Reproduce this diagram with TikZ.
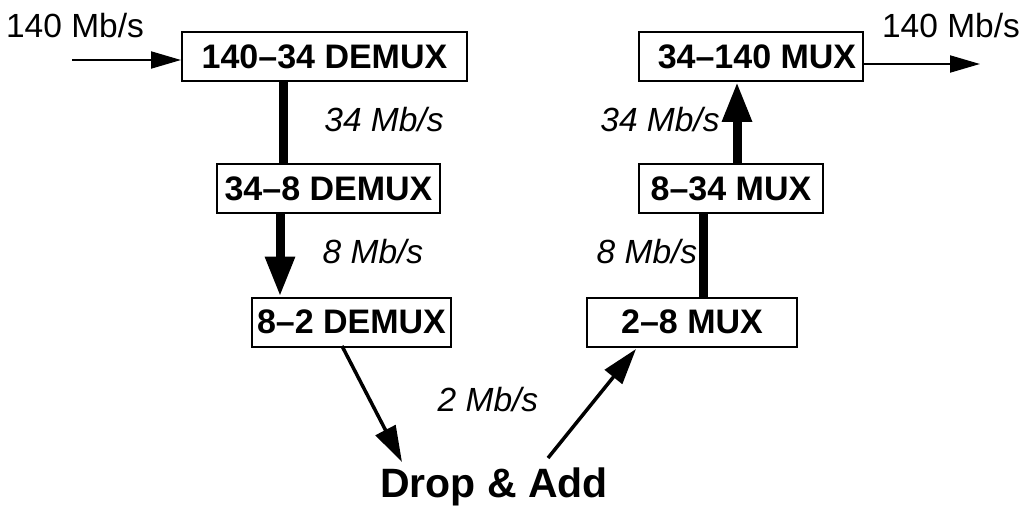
\documentclass[tikz,border=0pt]{standalone}
\usepackage{fontspec}
\setmainfont{Liberation Sans}
\usetikzlibrary{arrows.meta}
\begin{document}
\begin{tikzpicture}[x=1pt,y=-1pt,
  box/.style={draw,line width=2pt,minimum height=49pt,inner sep=0pt,font=\fontsize{34}{36}\selectfont\bfseries},
  rate/.style={font=\fontsize{33.5}{36}\selectfont\itshape,inner sep=0pt},
  plain/.style={font=\fontsize{33.5}{36}\selectfont,inner sep=0pt},
  thin/.style={line width=2pt,-{Triangle[length=30pt,width=17pt]}},
  heavy/.style={line width=9pt},
  heavyarrow/.style={line width=9pt,-{Triangle[length=40pt,width=28pt]}},
  diag/.style={line width=3.5pt,-{Triangle[length=36pt,width=22pt]}}]
\useasboundingbox (0,0) rectangle (1021,508);
% boxes
\node[box,minimum width=285pt] (d1) at (324.5,56.5) {140–34 DEMUX};
\node[box,minimum width=223pt] (d2) at (328.5,188.5) {34–8 DEMUX};
\node[box,minimum width=199pt] (d3) at (351.5,322) {8–2 DEMUX};
\node[box,minimum width=224pt] (m1) at (751,56.5) {\hspace*{12pt}34–140 MUX};
\node[box,minimum width=184pt] (m2) at (731,188.5) {8–34 MUX};
\node[box,minimum width=210pt] (m3) at (692,322) {2–8 MUX};
\node[font=\fontsize{41}{44}\selectfont\bfseries,inner sep=0pt] (da) at (494,487) {Drop \& Add};
% labels
\node[plain] (lin) at (75,26) {140 Mb/s};
\node[plain] (lout) at (951,26) {140 Mb/s};
\node[rate] (r1) at (384,120) {34 Mb/s};
\node[rate] (r2) at (373,252) {8 Mb/s};
\node[rate] (r3) at (660,120) {34 Mb/s};
\node[rate] (r4) at (647,252) {8 Mb/s};
\node[rate] (r5) at (488,400) {2 Mb/s};
% coordinates
\coordinate (in) at (72,60);
\coordinate (out) at (980,64);
\coordinate (xa) at (283,0);
\coordinate (xb) at (280,0);
\coordinate (xc) at (703,0);
\coordinate (xd) at (737,0);
\coordinate (a1) at (342,346);
\coordinate (a2) at (402,462);
\coordinate (b1) at (548,458);
\coordinate (b2) at (636,349);
% connectors
\draw[thin] (in) -- (d1.west |- in);
\draw[thin] (m1.east |- out) -- (out);
\draw[heavy] (d1.south -| xa) -- (d2.north -| xa);
\draw[heavyarrow] (d2.south -| xb) -- (d3.north -| xb);
\draw[heavy] (m3.north -| xc) -- (m2.south -| xc);
\draw[heavyarrow] (m2.north -| xd) -- (m1.south -| xd);
\draw[diag] (a1) -- (a2);
\draw[diag] (b1) -- (b2);
\end{tikzpicture}
\end{document}
